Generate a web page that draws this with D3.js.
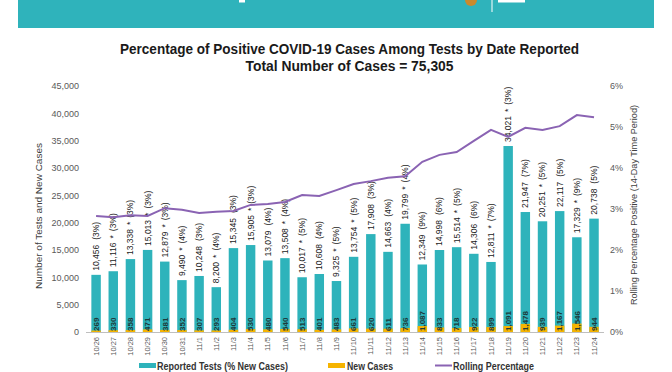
<!DOCTYPE html>
<html><head><meta charset="utf-8">
<script src="https://cdn.jsdelivr.net/npm/d3@7"></script>
<style>body{margin:0;background:#fff}svg{display:block}text{font-family:"Liberation Sans",Arial,sans-serif}</style>
</head><body><svg id="c" width="672" height="372"></svg>
<script>
const dates = ["10/26","10/27","10/28","10/29","10/30","10/31","11/1","11/2","11/3","11/4","11/5","11/6","11/7","11/8","11/9","11/10","11/11","11/12","11/13","11/14","11/15","11/16","11/17","11/18","11/19","11/20","11/21","11/22","11/23","11/24"];
const tests = [10456,11116,13338,15013,12879,9490,10248,8200,15345,15905,13079,13508,10017,10608,9325,13754,17908,14663,19799,12349,14998,15514,14306,12811,34021,21947,20251,22117,17329,20738];
const starred = [0,1,1,1,1,1,0,1,0,1,0,1,1,0,1,1,0,0,1,0,0,1,0,1,1,0,1,0,1,0];
const pctNew = [3,3,3,3,3,4,3,4,3,3,4,4,5,4,5,5,3,4,4,9,6,5,6,7,3,7,5,5,9,5];
const newCases = [269,330,358,471,381,352,307,293,404,530,480,540,513,401,483,661,620,611,736,1087,833,718,922,899,1091,1478,939,1167,1546,944];
const rolling = [2.83,2.80,2.85,2.83,3.02,2.98,2.90,2.93,2.95,3.10,3.12,3.17,3.34,3.32,3.46,3.61,3.68,3.76,3.80,4.15,4.32,4.39,4.66,4.93,4.76,4.98,4.93,5.02,5.29,5.24];
const leftTicks = [0,5000,10000,15000,20000,25000,30000,35000,40000,45000];
const rightTicks = [0,1,2,3,4,5,6];

const svg = d3.select("#c");
const teal="#2eb3bb", gold="#f6b400", purple="#8a63b3";

// banner
svg.append("rect").attr("x",18).attr("y",0).attr("width",636).attr("height",28).attr("fill","#2fb3bb");
svg.append("rect").attr("x",239).attr("y",0).attr("width",6).attr("height",2.5).attr("fill","#fff");
svg.append("circle").attr("cx",471).attr("cy",0).attr("r",6).attr("fill","#c98a2c");
svg.append("rect").attr("x",491.5).attr("y",0).attr("width",1).attr("height",12).attr("fill","#fff");
svg.append("rect").attr("x",498).attr("y",0).attr("width",27).attr("height",2.5).attr("fill","#fff");

// title
svg.append("text").attr("x",349.5).attr("y",54).attr("text-anchor","middle").attr("font-size",14).attr("font-weight","bold").attr("fill","#1a1a1a")
  .attr("textLength",459).attr("lengthAdjust","spacingAndGlyphs").text("Percentage of Positive COVID-19 Cases Among Tests by Date Reported");
svg.append("text").attr("x",349.5).attr("y",71).attr("text-anchor","middle").attr("font-size",14).attr("font-weight","bold").attr("fill","#1a1a1a")
  .attr("textLength",208).attr("lengthAdjust","spacingAndGlyphs").text("Total Number of Cases = 75,305");

const x = d3.scaleBand().domain(dates).range([87.5,602.6]).paddingInner(0.45).paddingOuter(0.225);
const y = d3.scaleLinear().domain([0,45000]).range([332,86]);
const yr = d3.scaleLinear().domain([0,6]).range([332,86]);

// left axis
const la = svg.append("g").attr("transform","translate(80,0)")
  .call(d3.axisLeft(y).tickValues(leftTicks).tickSize(0).tickPadding(1).tickFormat(d3.format(",")));
la.select(".domain").remove();
la.selectAll("text").attr("font-size",9).attr("fill","#595959").attr("font-family","Liberation Sans, Arial, sans-serif");

// right axis
const ra = svg.append("g").attr("transform","translate(609,0)")
  .call(d3.axisRight(yr).tickValues(rightTicks).tickSize(0).tickPadding(1).tickFormat(d=>d+"%"));
ra.select(".domain").remove();
ra.selectAll("text").attr("font-size",9).attr("fill","#595959").attr("font-family","Liberation Sans, Arial, sans-serif");

// axis titles
svg.append("text").attr("transform","translate(39,216) rotate(-90)").attr("text-anchor","middle").attr("dy","0.35em")
  .attr("font-size",9.5).attr("fill","#404040").attr("textLength",146).attr("lengthAdjust","spacingAndGlyphs").text("Number of Tests and New Cases");
svg.append("text").attr("transform","translate(634,205) rotate(-90)").attr("text-anchor","middle").attr("dy","0.35em")
  .attr("font-size",9.5).attr("fill","#404040").attr("textLength",200).attr("lengthAdjust","spacingAndGlyphs").text("Rolling Percentage Positive (14-Day Time Period)");

// bars
svg.append("g").selectAll("rect").data(dates).join("rect")
  .attr("x",d=>x(d)).attr("width",x.bandwidth())
  .attr("y",(d,i)=>y(tests[i])).attr("height",(d,i)=>y(0)-y(tests[i])).attr("fill",teal);
svg.append("g").selectAll("rect").data(dates).join("rect")
  .attr("x",d=>x(d)).attr("width",x.bandwidth())
  .attr("y",(d,i)=>y(newCases[i])).attr("height",(d,i)=>y(0)-y(newCases[i])).attr("fill",gold);

// baseline
svg.append("line").attr("x1",86).attr("x2",604).attr("y1",332.5).attr("y2",332.5).attr("stroke","#bfbfbf").attr("stroke-width",1);

// x tick labels
const xa = svg.append("g").attr("transform","translate(0,332)").call(d3.axisBottom(x).tickSize(0).tickPadding(0));
xa.select(".domain").remove();
xa.selectAll("text").attr("font-size",7.5).attr("fill","#595959").attr("font-family","Liberation Sans, Arial, sans-serif")
  .attr("transform","rotate(-90)").attr("text-anchor","end").attr("x",-5).attr("y",0).attr("dy","0.35em");

// bar top labels
const fmt = d3.format(",");
const tl = svg.append("g").selectAll("text").data(dates).join("text")
  .attr("transform",(d,i)=>`translate(${x(d)+x.bandwidth()/2},${y(tests[i])-4}) rotate(-90)`)
  .attr("dy","0.35em").attr("font-size",8.5).attr("fill","#1a1a1a");
tl.append("tspan").text((d,i)=>fmt(tests[i]));
tl.filter((d,i)=>starred[i]).append("tspan").attr("dx",4).text("*");
tl.append("tspan").attr("dx",(d,i)=>starred[i]?4:5).text((d,i)=>"(" + pctNew[i] + "%)");

// new case labels inside bars
svg.append("g").selectAll("text").data(dates).join("text")
  .attr("transform",(d,i)=>`translate(${x(d)+x.bandwidth()/2},${y(0)-1}) rotate(-90)`)
  .attr("dy","0.35em").attr("font-size",8).attr("font-weight","bold").attr("fill","#1d3a3a")
  .text((d,i)=>fmt(newCases[i]));

// rolling line
const line = d3.line().x((d,i)=>x(dates[i])+x.bandwidth()/2).y(d=>yr(d));
svg.append("path").datum(rolling).attr("d",line).attr("fill","none").attr("stroke",purple).attr("stroke-width",2);

// legend
const lg = svg.append("g");
lg.append("rect").attr("x",139).attr("y",363).attr("width",17).attr("height",5).attr("fill",teal);
lg.append("text").attr("x",157).attr("y",369.5).attr("font-size",10).attr("font-weight","bold").attr("fill","#333")
  .attr("textLength",131).attr("lengthAdjust","spacingAndGlyphs").text("Reported Tests (% New Cases)");
lg.append("rect").attr("x",328).attr("y",363).attr("width",17).attr("height",5).attr("fill",gold);
lg.append("text").attr("x",347).attr("y",369.5).attr("font-size",10).attr("font-weight","bold").attr("fill","#333")
  .attr("textLength",46).attr("lengthAdjust","spacingAndGlyphs").text("New Cases");
lg.append("line").attr("x1",435).attr("x2",452).attr("y1",365.5).attr("y2",365.5).attr("stroke",purple).attr("stroke-width",2);
lg.append("text").attr("x",453).attr("y",369.5).attr("font-size",10).attr("font-weight","bold").attr("fill","#333")
  .attr("textLength",81).attr("lengthAdjust","spacingAndGlyphs").text("Rolling Percentage");
</script></body></html>
